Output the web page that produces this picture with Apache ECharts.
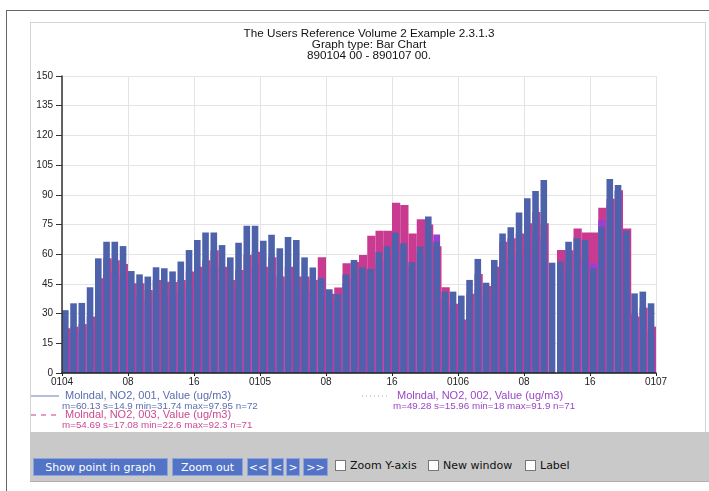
<!DOCTYPE html>
<html><head><meta charset="utf-8">
<script src="https://cdn.jsdelivr.net/npm/echarts@6/dist/echarts.min.js"></script>
<style>
html,body{margin:0;padding:0;background:#fff;}
body{width:709px;height:491px;overflow:hidden;position:relative;font-family:"Liberation Sans",Arial,sans-serif;}
#frameTop{position:absolute;left:6px;top:10px;width:703px;height:1px;background:#666;}
#frameLeft{position:absolute;left:6px;top:10px;width:1px;height:481px;background:#666;}
#panel{position:absolute;left:30px;top:22px;width:674px;height:410px;border:1px solid #d4d4d4;border-bottom:none;}
#chart{position:absolute;left:0;top:0;width:709px;height:440px;}
#band{position:absolute;left:30px;top:432px;width:679px;height:49px;background:#c9c9c9;border-bottom:1px solid #b0b0b0;}
.btn{position:absolute;top:458px;height:18px;line-height:18px;background:#5273c6;color:#fff;font-family:"DejaVu Sans",Verdana,sans-serif;font-size:11px;text-align:center;border:1px solid #8ea4dc;box-sizing:border-box;}
.cb{position:absolute;top:460px;width:11px;height:11px;background:#fff;border:1px solid #777;box-sizing:border-box;}
.lbl{position:absolute;top:459px;font-family:"DejaVu Sans",Verdana,sans-serif;font-size:11px;color:#111;line-height:14px;}
</style>
</head><body>
<div id="frameTop"></div><div id="frameLeft"></div>
<div id="panel"></div>
<div id="chart"></div>
<div id="band"></div>
<div class="btn" style="left:33px;width:135px;">Show point in graph</div>
<div class="btn" style="left:172px;width:71px;">Zoom out</div>
<div class="btn" style="left:247px;width:22px;">&lt;&lt;</div>
<div class="btn" style="left:271px;width:13px;">&lt;</div>
<div class="btn" style="left:286px;width:14px;">&gt;</div>
<div class="btn" style="left:303px;width:25px;">&gt;&gt;</div>
<div class="cb" style="left:335px;"></div><div class="lbl" style="left:350px;">Zoom Y-axis</div>
<div class="cb" style="left:428px;"></div><div class="lbl" style="left:443px;">New window</div>
<div class="cb" style="left:525px;"></div><div class="lbl" style="left:540px;">Label</div>
<script>
// hours 0..71 from 890104 00 to 890107 00
const tickLabels = ['0104','08','16','0105','08','16','0106','08','16','0107'];
const seriesNames = ['Molndal, NO2, 001, Value (ug/m3)','Molndal, NO2, 002, Value (ug/m3)','Molndal, NO2, 003, Value (ug/m3)'];
const seriesStats = ['m=60.13 s=14.9 min=31.74 max=97.95 n=72','m=49.28 s=15.96 min=18 max=91.9 n=71','m=54.69 s=17.08 min=22.6 max=92.3 n=71'];
const no2_001 = [31.74,35.2,35.4,43.3,57.9,66.3,66.3,64.1,51.5,49.8,
  48.7,53.4,52.9,51.3,56.3,62.1,67.2,70.9,70.9,64.6,
  58.4,65.8,74.4,74.4,66.8,69.8,63.0,68.7,67.2,58.4,
  53.3,48.0,42.3,39.9,49.8,57.1,53.4,52.5,61.0,64.0,
  71.0,65.5,56.0,63.8,79.0,66.3,41.1,41.1,39.1,47.0,
  57.6,45.6,57.1,70.5,73.6,81.0,88.2,91.9,97.5,55.7,
  56.2,66.3,68.0,67.2,52.9,73.9,97.95,95.0,71.9,40.2,41.1,35.2];
const no2_002 = [18,20,21,24,40,50,51,48,40,38,
  36,40,40,39,41,44,47,50,54,47,
  41,45,52,54,47,51,43,47,43,42,
  41,46,36,37,45,48,50,52,55,58,
  62,63,54,60,66,70,38,32,24,33,
  42,38,46,55,58,60,64,70,68,null,
  50,54,60,58,55.4,77.3,85,91.9,62,30,28,20];
const no2_003 = [22.6,23.4,24.7,28.5,47.8,57.9,57.0,55.0,45.3,45.3,
  41.9,47.0,46.1,46.0,47.0,51.2,53.7,57.0,62.0,53.7,
  47.0,52.0,59.6,61.3,53.7,58.4,48.7,53.7,48.7,48.7,
  47.0,58.5,40.0,43.2,55.4,56.0,59.6,69.3,71.9,71.9,
  86.0,84.8,70.5,77.6,75.0,64.0,43.3,35.0,27.0,40.0,
  50.0,44.0,53.7,66.3,68.0,70.5,75.6,81.3,75.6,null,
  62.1,62.0,73.0,70.9,70.9,83.5,88.0,92.3,73.0,28.5,33.0,23.4];

const colors = ['#4d62aa','#9a3fd6','#c93b90'];
const toPts = arr => arr.map((v,i)=>[i+0.5, v]);

const chart = echarts.init(document.getElementById('chart'), null, {renderer:'canvas'});
const axisFont = {fontFamily:'Liberation Sans, Arial, sans-serif', fontSize:10, color:'#222'};
const legFont = '11px "Liberation Sans", Arial, sans-serif';
const statFont = '9.8px "Liberation Sans", Arial, sans-serif';
const option = {
  animation:false,
  title:{
    text:'The Users Reference Volume 2 Example 2.3.1.3\nGraph type: Bar Chart\n890104 00 - 890107 00.',
    left:364, top:23, textAlign:'center',
    textStyle:{fontFamily:'Liberation Sans, Arial, sans-serif', fontSize:11.7, fontWeight:'normal', color:'#111', lineHeight:11}
  },
  grid:{left:62, right:53, top:76, bottom:67, containLabel:false},
  xAxis:[
    {type:'value', min:0, max:72, interval:8, axisLine:{show:false}, axisTick:{show:false}, axisLabel:{show:false},
     splitLine:{show:true, lineStyle:{color:'#e4e4e4', width:1}}, z:0},
    {type:'value', min:0, max:72, interval:8, position:'bottom', z:10,
     axisLine:{show:true, lineStyle:{color:'#222', width:1.5}},
     axisTick:{show:true, length:3, lineStyle:{color:'#222'}},
     axisLabel:Object.assign({margin:4, formatter:(v)=>tickLabels[Math.round(v/8)]||''}, axisFont),
     splitLine:{show:false}}
  ],
  yAxis:[
    {type:'value', min:0, max:150, interval:15, axisLine:{show:false}, axisTick:{show:false}, axisLabel:{show:false},
     splitLine:{show:true, lineStyle:{color:'#e4e4e4', width:1}}, z:0},
    {type:'value', min:0, max:150, interval:15, position:'left', z:10,
     axisLine:{show:true, lineStyle:{color:'#333', width:1.5}},
     axisTick:{show:true, length:6, lineStyle:{color:'#333'}},
     axisLabel:Object.assign({margin:9}, axisFont),
     splitLine:{show:false}}
  ],
  series:[
    {name:seriesNames[0], type:'bar', data:toPts(no2_001), xAxisIndex:0, yAxisIndex:0,
     barWidth:'80%', barGap:'-100%', itemStyle:{color:colors[0]}, z:5},
    {name:seriesNames[1], type:'bar', data:toPts(no2_002), xAxisIndex:0, yAxisIndex:0,
     barWidth:'83%', barGap:'-100%', itemStyle:{color:colors[1]}, z:4},
    {name:seriesNames[2], type:'bar', data:toPts(no2_003), xAxisIndex:0, yAxisIndex:0,
     barWidth:'100%', barGap:'-100%', itemStyle:{color:colors[2]}, z:3}
  ],
  graphic:[
    {type:'line', shape:{x1:31,y1:396,x2:59,y2:396}, style:{stroke:'#6a7cb8', lineWidth:1}},
    {type:'text', style:{text:seriesNames[0], x:65, y:390, font:legFont, fill:'#5a6db0'}},
    {type:'text', style:{text:seriesStats[0], x:62, y:401, font:statFont, fill:'#5a6db0'}},
    {type:'line', shape:{x1:362,y1:396,x2:388,y2:396}, style:{stroke:'#a8a8c8', lineWidth:1, lineDash:[1,3]}},
    {type:'text', style:{text:seriesNames[1], x:397, y:390, font:legFont, fill:'#9a45c8'}},
    {type:'text', style:{text:seriesStats[1], x:393, y:401, font:statFont, fill:'#9a45c8'}},
    {type:'line', shape:{x1:31,y1:415,x2:59,y2:415}, style:{stroke:colors[2], lineWidth:1, lineDash:[5,5]}},
    {type:'text', style:{text:seriesNames[2], x:65, y:409, font:legFont, fill:'#cc4a93'}},
    {type:'text', style:{text:seriesStats[2], x:62, y:420, font:statFont, fill:'#cc4a93'}}
  ]
};
chart.setOption(option);
</script>
</body></html>
